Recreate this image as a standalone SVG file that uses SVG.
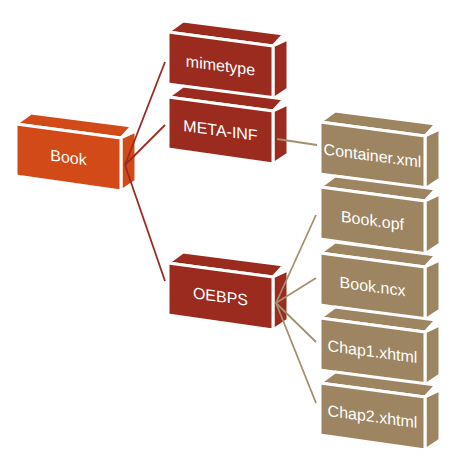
<svg xmlns="http://www.w3.org/2000/svg" width="459" height="471" viewBox="0 0 459 471">
<style>
.blk polygon{stroke:#ffffff;stroke-width:3;stroke-linejoin:round}
.orange polygon{fill:#D24A17}
.red polygon{fill:#9B2B1F}
.tan polygon{fill:#9D8562}
.blk text{font-family:"Liberation Sans",Arial,sans-serif;font-size:16px;fill:#ffffff;text-anchor:middle}
.c-red{stroke:#9B2B1F;stroke-width:1.8;fill:none}
.c-tan{stroke:#A68F6D;stroke-width:1.8;fill:none}
</style>
<rect width="459" height="471" fill="#ffffff"/>
<g id="node-book" class="blk orange" transform="translate(16,124)">
<polygon points="0,0 15,-11 116,2 105,14"/>
<polygon points="105,14 120,7 120,57 105,67"/>
<polygon points="0,0 105,14 105,67 0,52"/>
<text transform="skewY(7.6)" x="52.5" y="32">Book</text>
</g>
<g id="node-mimetype" class="blk red" transform="translate(168,32)">
<polygon points="0,0 15,-11 116,2 105,14"/>
<polygon points="105,14 120,7 120,57 105,67"/>
<polygon points="0,0 105,14 105,67 0,52"/>
<text transform="skewY(7.6)" x="52.5" y="32">mimetype</text>
</g>
<g id="node-meta-inf" class="blk red" transform="translate(168,97)">
<polygon points="0,0 15,-11 116,2 105,14"/>
<polygon points="105,14 120,7 120,57 105,67"/>
<polygon points="0,0 105,14 105,67 0,52"/>
<text transform="skewY(7.6)" x="52.5" y="32">META-INF</text>
</g>
<g id="node-oebps" class="blk red" transform="translate(168,263)">
<polygon points="0,0 15,-11 116,2 105,14"/>
<polygon points="105,14 120,7 120,57 105,67"/>
<polygon points="0,0 105,14 105,67 0,52"/>
<text transform="skewY(7.6)" x="52.5" y="32">OEBPS</text>
</g>
<g id="node-container" class="blk tan" transform="translate(320,122)">
<polygon points="0,0 15,-11 116,2 105,14"/>
<polygon points="105,14 120,7 120,57 105,67"/>
<polygon points="0,0 105,14 105,67 0,52"/>
<text transform="skewY(7.6)" x="52.5" y="32">Container.xml</text>
</g>
<g id="node-bookopf" class="blk tan" transform="translate(320,187)">
<polygon points="0,0 15,-11 116,2 105,14"/>
<polygon points="105,14 120,7 120,57 105,67"/>
<polygon points="0,0 105,14 105,67 0,52"/>
<text transform="skewY(7.6)" x="52.5" y="32">Book.opf</text>
</g>
<g id="node-bookncx" class="blk tan" transform="translate(320,253)">
<polygon points="0,0 15,-11 116,2 105,14"/>
<polygon points="105,14 120,7 120,57 105,67"/>
<polygon points="0,0 105,14 105,67 0,52"/>
<text transform="skewY(7.6)" x="52.5" y="32">Book.ncx</text>
</g>
<g id="node-chap1" class="blk tan" transform="translate(320,318)">
<polygon points="0,0 15,-11 116,2 105,14"/>
<polygon points="105,14 120,7 120,57 105,67"/>
<polygon points="0,0 105,14 105,67 0,52"/>
<text transform="skewY(7.6)" x="52.5" y="32">Chap1.xhtml</text>
</g>
<g id="node-chap2" class="blk tan" transform="translate(320,383)">
<polygon points="0,0 15,-11 116,2 105,14"/>
<polygon points="105,14 120,7 120,57 105,67"/>
<polygon points="0,0 105,14 105,67 0,52"/>
<text transform="skewY(7.6)" x="52.5" y="32">Chap2.xhtml</text>
</g>
<g id="connectors">
<line class="c-red" x1="125" y1="165" x2="165" y2="62"/>
<line class="c-red" x1="125" y1="165" x2="165" y2="125"/>
<line class="c-red" x1="125" y1="165" x2="165" y2="281"/>
<line class="c-tan" x1="277" y1="139" x2="317" y2="145"/>
<line class="c-tan" x1="276" y1="303" x2="316" y2="215"/>
<line class="c-tan" x1="276" y1="303" x2="316" y2="278"/>
<line class="c-tan" x1="276" y1="303" x2="316" y2="342"/>
<line class="c-tan" x1="276" y1="303" x2="316" y2="403"/>
</g>
</svg>
